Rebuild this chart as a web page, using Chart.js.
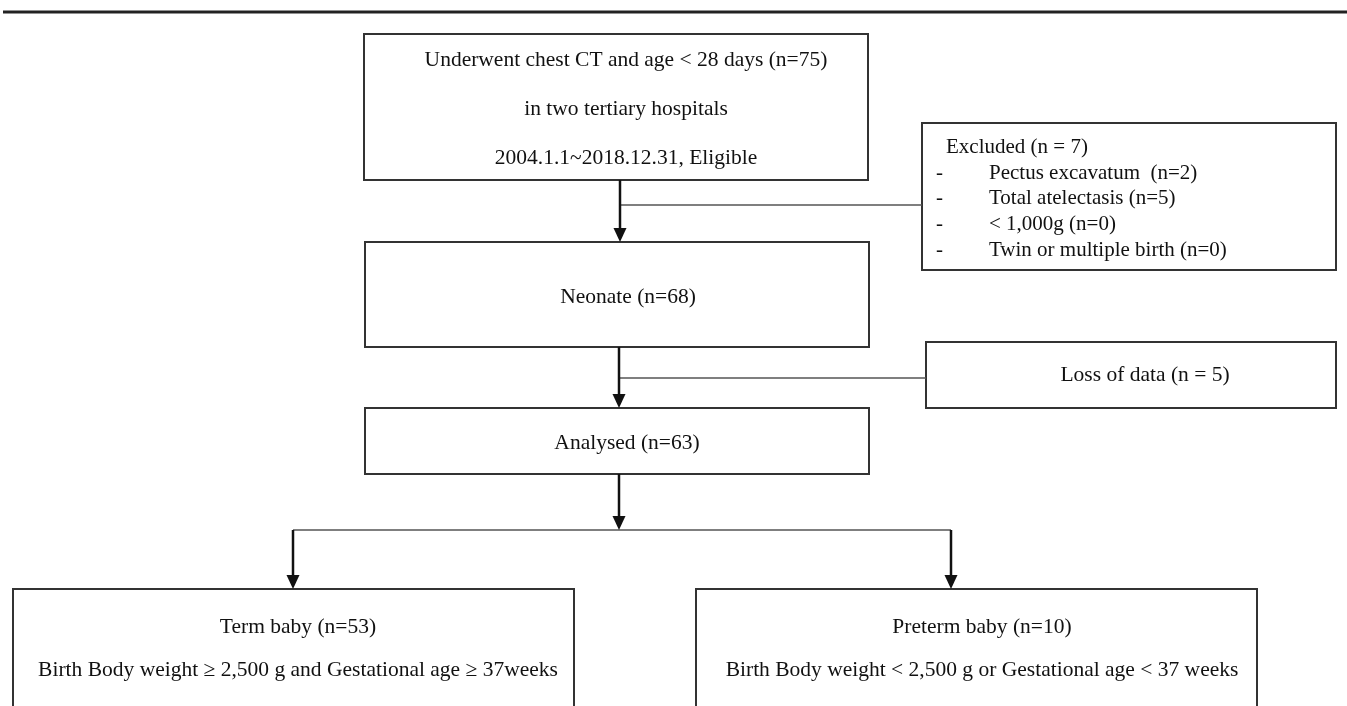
<!DOCTYPE html>
<html>
<head>
<meta charset="utf-8">
<script src="https://cdn.jsdelivr.net/npm/chart.js@4.4.1/dist/chart.umd.min.js"></script>
<style>
  html, body { margin: 0; padding: 0; background: #fff; }
  #flow { display: block; }
</style>
</head>
<body>
<canvas id="flow" width="1347" height="706"></canvas>
<script>
// ── Data ──────────────────────────────────────
const mainSteps   = ['Underwent chest CT and age < 28 days', 'Neonate', 'Analysed'];
const mainCounts  = [75, 68, 63];
const mainNotes   = ['in two tertiary hospitals', '2004.1.1~2018.12.31, Eligible'];

const excludedTotal    = 7;
const exclusionReasons = ['Pectus excavatum ', 'Total atelectasis', '< 1,000g', 'Twin or multiple birth'];
const exclusionCounts  = [2, 5, 0, 0];

const lossCount = 5;

const groups        = ['Term baby', 'Preterm baby'];
const groupCounts   = [53, 10];
const groupCriteria = [
  'Birth Body weight \u2265 2,500 g and Gestational age \u2265 37weeks',
  'Birth Body weight < 2,500 g or Gestational age < 37 weeks'
];

// ── Layout (axis units) ───────────────────────
const BOX = {
  top:      [364, 34, 868, 180],
  excluded: [922, 123, 1336, 270],
  neonate:  [365, 242, 869, 347],
  loss:     [926, 342, 1336, 408],
  analysed: [365, 408, 869, 474],
  term:     [13, 589, 574, 722],
  preterm:  [696, 589, 1257, 722]
};
const ARROWS = [[620, 180, 242], [619, 347, 408], [619, 474, 530], [293, 530, 589], [951, 530, 589]];
const LINKS  = [[620, 922, 205], [619, 926, 378], [293, 951, 530]];

const SERIF = '"Liberation Serif", "DejaVu Serif", serif';

// ── Flowchart plugin ──────────────────────────
const flowPlugin = {
  id: 'flow',
  afterDraw(chart) {
    const { ctx, scales: { x, y } } = chart;
    const px = v => x.getPixelForValue(v);
    const py = v => y.getPixelForValue(v);

    ctx.save();

    // rule at the top of the figure
    ctx.strokeStyle = '#222';
    ctx.lineWidth = 3;
    ctx.beginPath();
    ctx.moveTo(px(3), py(12));
    ctx.lineTo(px(1347), py(12));
    ctx.stroke();

    // boxes
    ctx.strokeStyle = '#333';
    ctx.lineWidth = 2;
    Object.values(BOX).forEach(([x0, y0, x1, y1]) => {
      ctx.strokeRect(px(x0), py(y0), px(x1) - px(x0), py(y1) - py(y0));
    });

    // side links
    ctx.strokeStyle = '#555';
    ctx.lineWidth = 1.5;
    LINKS.forEach(([x0, x1, yy]) => {
      ctx.beginPath();
      ctx.moveTo(px(x0), py(yy));
      ctx.lineTo(px(x1), py(yy));
      ctx.stroke();
    });

    // arrows
    ctx.strokeStyle = '#111';
    ctx.fillStyle = '#111';
    ctx.lineWidth = 2.5;
    ARROWS.forEach(([xx, y0, y1]) => {
      const tip = py(y1);
      ctx.beginPath();
      ctx.moveTo(px(xx), py(y0));
      ctx.lineTo(px(xx), tip - 10);
      ctx.stroke();
      ctx.beginPath();
      ctx.moveTo(px(xx) - 6.5, tip - 14);
      ctx.lineTo(px(xx) + 6.5, tip - 14);
      ctx.lineTo(px(xx), tip);
      ctx.closePath();
      ctx.fill();
    });

    // texts
    ctx.fillStyle = '#111';
    ctx.textBaseline = 'middle';
    ctx.font = `21.5px ${SERIF}`;
    ctx.textAlign = 'center';

    ctx.fillText(`${mainSteps[0]} (n=${mainCounts[0]})`, px(626), py(60));
    ctx.fillText(mainNotes[0], px(626), py(109));
    ctx.fillText(mainNotes[1], px(626), py(158));

    ctx.fillText(`${mainSteps[1]} (n=${mainCounts[1]})`, px(628), py(297));
    ctx.fillText(`${mainSteps[2]} (n=${mainCounts[2]})`, px(627), py(443));
    ctx.fillText(`Loss of data (n = ${lossCount})`, px(1145), py(375));

    const groupX = [298, 982];
    groups.forEach((g, i) => {
      ctx.fillText(`${g} (n=${groupCounts[i]})`, px(groupX[i]), py(627));
      ctx.fillText(groupCriteria[i], px(groupX[i]), py(670));
    });

    // exclusion list
    ctx.textAlign = 'left';
    ctx.font = `21px ${SERIF}`;
    ctx.fillText(`Excluded (n = ${excludedTotal})`, px(946), py(147));
    const rowY = [173, 198, 224, 250];
    exclusionReasons.forEach((r, i) => {
      ctx.fillText('-', px(936), py(rowY[i]));
      ctx.fillText(`${r} (n=${exclusionCounts[i]})`, px(989), py(rowY[i]));
    });

    ctx.restore();
  }
};

// ── Chart ─────────────────────────────────────
new Chart(document.getElementById('flow').getContext('2d'), {
  type: 'scatter',
  data: { datasets: [{ data: [], pointRadius: 0 }] },
  options: {
    responsive: false,
    animation: false,
    layout: { padding: 0 },
    plugins: { legend: { display: false }, tooltip: { enabled: false } },
    scales: {
      x: { type: 'linear', min: 0, max: 1347, display: false },
      y: { type: 'linear', min: 0, max: 706, reverse: true, display: false }
    }
  },
  plugins: [flowPlugin]
});
</script>
</body>
</html>
